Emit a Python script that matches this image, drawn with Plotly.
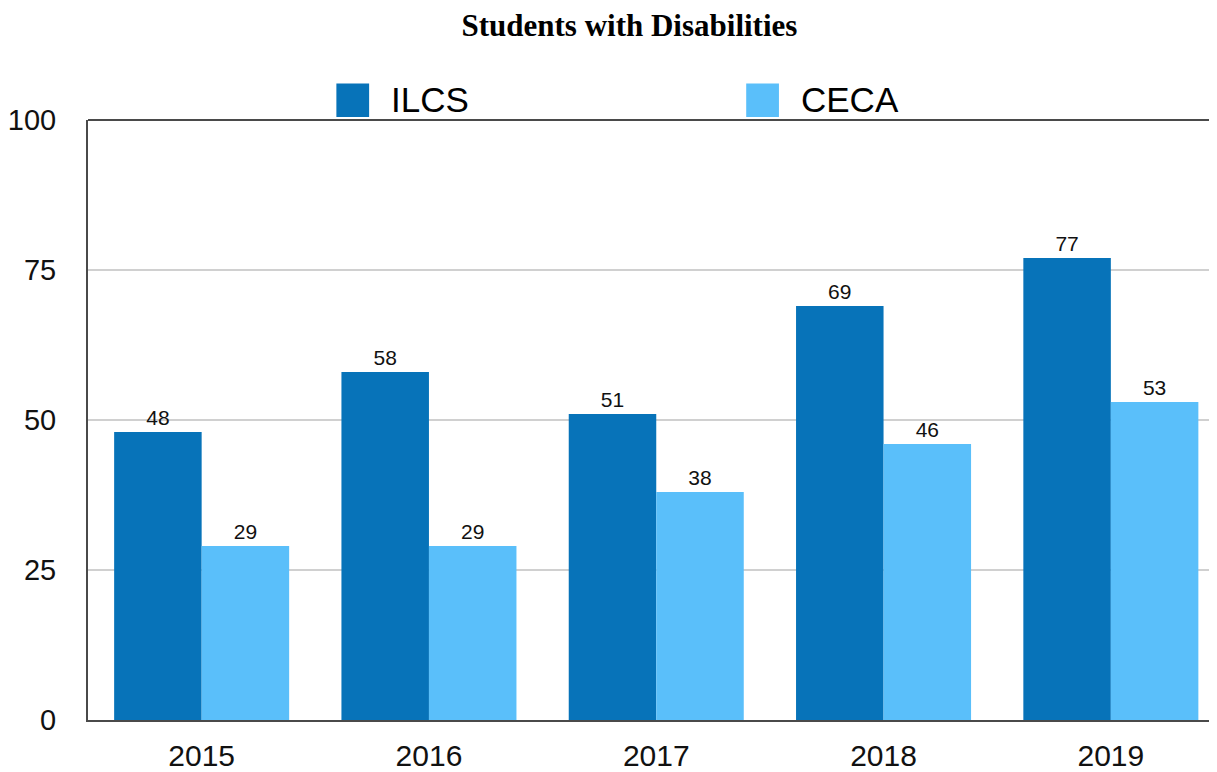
import plotly.graph_objects as go

years = ["2015", "2016", "2017", "2018", "2019"]
ilcs = [48, 58, 51, 69, 77]
ceca = [29, 29, 38, 46, 53]
series_names = ["ILCS", "CECA"]
colors = ["#0773b9", "#5abffa"]

fig = go.Figure()
for name, vals, col in zip(series_names, [ilcs, ceca], colors):
    fig.add_trace(go.Bar(
        x=years, y=vals, name=name, marker=dict(color=col, line=dict(width=0)),
        text=[str(v) for v in vals], textposition="outside",
        textfont=dict(family="Liberation Sans, Arial", size=21, color="#111"),
        cliponaxis=False, showlegend=False,
    ))

# custom legend (large squares)
leg_x = [0.220, 0.583]
for name, col, lx in zip(series_names, colors, leg_x):
    fig.add_shape(type="rect", xref="paper", yref="paper",
                  x0=lx, x1=lx + 0.029, y0=1.005, y1=1.061,
                  fillcolor=col, line=dict(width=0))
    fig.add_annotation(xref="paper", yref="paper", x=lx + 0.047, y=1.034,
                       text=name, showarrow=False, xanchor="left", yanchor="middle",
                       font=dict(family="Liberation Sans, Arial", size=35, color="#000"))

fig.update_layout(
    width=1209, height=764,
    margin=dict(l=79, r=0, t=112, b=49),
    paper_bgcolor="white", plot_bgcolor="white",
    barmode="group", bargap=0.23, bargroupgap=0,
    title=dict(text="<b>Students with Disabilities</b>", x=0.514, xanchor="center",
               y=0.978, yanchor="middle",
               font=dict(family="Liberation Serif, Times New Roman", size=31, color="#000")),
    xaxis=dict(type="category", range=[-0.5, 4.467], showline=True, linecolor="#4a4a4a",
               linewidth=2, mirror=False, ticks="", showgrid=False,
               tickfont=dict(family="Liberation Sans, Arial", size=30, color="#111"),
               ticklabelstandoff=8),
    yaxis=dict(range=[0, 100], tickvals=[0, 25, 50, 75, 100], showline=True,
               linecolor="#4a4a4a", linewidth=2, showgrid=True, gridcolor="#d0d0d0",
               gridwidth=1.5, zeroline=False, ticks="",
               tickfont=dict(family="Liberation Sans, Arial", size=29, color="#111"),
               ticklabelstandoff=24),
)
fig.add_shape(type="line", xref="paper", yref="paper", x0=0, x1=1, y0=1, y1=1,
              line=dict(color="#4a4a4a", width=2))

fig.write_html("out.html")
